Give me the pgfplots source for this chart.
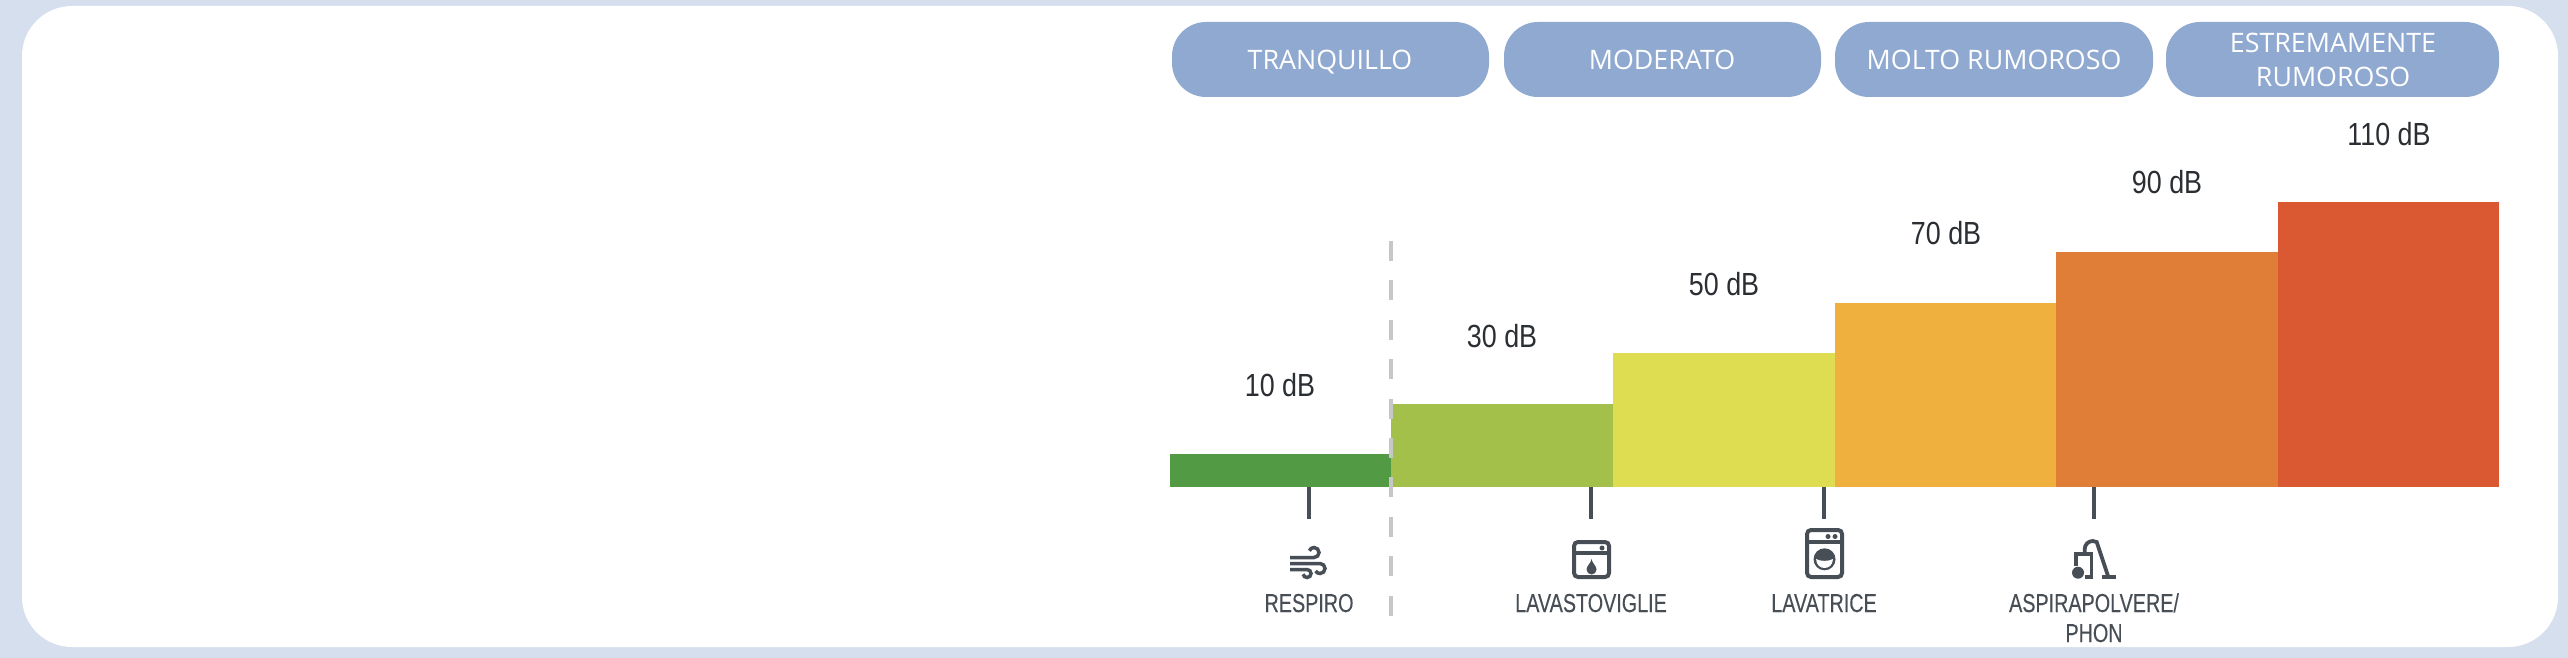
\documentclass[border=0pt]{standalone}
\usepackage{pgfplots}
\pgfplotsset{compat=1.18}
\usepackage{fontspec}
\setmainfont{Open Sans}
\newfontfamily\cond[FakeStretch=0.84]{Liberation Sans}
\newfontfamily\condb[FakeStretch=0.76,FakeBold=0.15]{Liberation Sans}
\definecolor{bgb}{HTML}{D6DFEE}
\definecolor{pillc}{HTML}{90A9D1}
\definecolor{ink}{HTML}{474E55}
\definecolor{valink}{HTML}{2B2F33}
\definecolor{c1}{HTML}{529A44}
\definecolor{c2}{HTML}{A3C14A}
\definecolor{c3}{HTML}{DEDD52}
\definecolor{c4}{HTML}{EFB03E}
\definecolor{c5}{HTML}{E07E38}
\definecolor{c6}{HTML}{DA5832}
\pgfplotsset{base/.style={hide axis,scale only axis,width=1284pt,height=329pt,at={(0,0)},anchor=south west,clip=false,xmin=0,xmax=2568}}
\pgfplotsset{px/.style={base,ymin=0,ymax=658,y dir=reverse}}
\begin{document}
\begin{tikzpicture}[x=1pt,y=1pt]
\begin{axis}[px]
\fill[bgb] (axis cs:0,0) rectangle (axis cs:2568,658);
\fill[white,rounded corners=25pt] (axis cs:22,6) rectangle (axis cs:2558,647);
\end{axis}
\begin{axis}[base,ymin=-70.96,ymax=190.15]
\addplot[fill=c1,draw=none] coordinates {(1170,-3.1)(1170,10)(1392,10)(1392,-3.1)} --cycle;
\addplot[fill=c2,draw=none] coordinates {(1391,-3.1)(1391,30)(1613,30)(1613,-3.1)} --cycle;
\addplot[fill=c3,draw=none] coordinates {(1613,-3.1)(1613,50)(1835,50)(1835,-3.1)} --cycle;
\addplot[fill=c4,draw=none] coordinates {(1835,-3.1)(1835,70)(2056,70)(2056,-3.1)} --cycle;
\addplot[fill=c5,draw=none] coordinates {(2056,-3.1)(2056,90)(2278,90)(2278,-3.1)} --cycle;
\addplot[fill=c6,draw=none] coordinates {(2278,-3.1)(2278,110)(2499,110)(2499,-3.1)} --cycle;
\end{axis}
\begin{axis}[px]
% dashed separator
\draw[draw=black!22,line width=1.8pt,dash pattern=on 10pt off 9.7pt] (axis cs:1391,241) -- (axis cs:1391,618);
% pills
\foreach \a/\b in {1172/1489,1504/1821,1835/2153,2166/2499}{
  \edef\tmp{\noexpand\fill[pillc,rounded corners=17pt] (axis cs:\a,22) rectangle (axis cs:\b,97);}\tmp
}
\tikzset{pl/.style={text=white,font=\fontsize{13.4}{16}\selectfont,inner sep=0pt,anchor=base}}
\node[pl] at (axis cs:1330,70) {TRANQUILLO};
\node[pl] at (axis cs:1662,70) {MODERATO};
\node[pl] at (axis cs:1994,70) {MOLTO RUMOROSO};
\node[pl] at (axis cs:2333,53) {ESTREMAMENTE};
\node[pl] at (axis cs:2333,87) {RUMOROSO};
% value labels
\tikzset{vl/.style={text=valink,font=\cond\fontsize{16}{18}\selectfont,inner sep=0pt,anchor=base}}
\node[vl] at (axis cs:1280,396) {10 dB};
\node[vl] at (axis cs:1502,347) {30 dB};
\node[vl] at (axis cs:1724,295) {50 dB};
\node[vl] at (axis cs:1946,244) {70 dB};
\node[vl] at (axis cs:2167,193) {90 dB};
\node[vl] at (axis cs:2389,145) {110 dB};
% ticks
\foreach \x in {1309,1591,1824,2094}{
  \edef\tmp{\noexpand\draw[ink,line width=1.8pt] (axis cs:\x,487) -- (axis cs:\x,519);}\tmp
}
% category labels
\tikzset{cl/.style={text=ink,font=\condb\fontsize{13}{15}\selectfont,inner sep=0pt,anchor=base}}
\node[cl] at (axis cs:1309,612) {RESPIRO};
\node[cl] at (axis cs:1591,612) {LAVASTOVIGLIE};
\node[cl] at (axis cs:1824,612) {LAVATRICE};
\node[cl] at (axis cs:2094,612) {ASPIRAPOLVERE/};
\node[cl] at (axis cs:2094,642) {PHON};
% wind icon
\begin{scope}[shift={(axis cs:1290,579)},x=0.5pt,y=0.5pt,line width=1.75pt,draw=ink]
\draw (0,21.5) -- (24,21.5) arc[start angle=-90,end angle=160,radius=5];
\draw (0,15.5) -- (30,15.5) arc[start angle=90,end angle=-150,radius=5];
\draw (0,9.5) -- (17,9.5) arc[start angle=90,end angle=-170,radius=4];
\end{scope}
% dishwasher icon
\begin{scope}[shift={(axis cs:1572,579)},x=0.5pt,y=0.5pt]
\draw[ink,line width=2pt,rounded corners=2pt] (2,2) rectangle (37,37);
\draw[ink,line width=2pt] (2,26) -- (37,26);
\fill[ink] (30,31) circle[radius=2.5];
\fill[ink] (19.5,20) .. controls (20,16) and (24.5,13) .. (24.5,9.5) arc[start angle=0,end angle=-180,radius=5] .. controls (14.5,13) and (19,16) .. (19.5,20) -- cycle;
\end{scope}
% washing machine icon
\begin{scope}[shift={(axis cs:1805,579)},x=0.5pt,y=0.5pt]
\draw[ink,line width=2pt,rounded corners=2pt] (2,2) rectangle (37,49);
\draw[ink,line width=2pt] (2,37.5) -- (37,37.5);
\fill[ink] (23,42.5) circle[radius=2.5];
\fill[ink] (30,42.5) circle[radius=2.5];
\fill[ink] (19.5,19.7) circle[radius=11];
\fill[white] (11,20) .. controls (15,17.5) and (24,17.5) .. (28,20) .. controls (27.5,14) and (24,11) .. (19.5,11) .. controls (15,11) and (11.5,14) .. (11,20) -- cycle;
\end{scope}
% vacuum cleaner icon
\begin{scope}[shift={(axis cs:2072,579)},x=0.5pt,y=0.5pt]
\fill[ink] (6,6.3) circle[radius=6];
\draw[ink,line width=1.9pt] (3.7,13) -- (3.7,24.7) -- (19.5,24.7) -- (19.5,2) -- (12.5,2);
\draw[ink,line width=1.9pt] (12.7,24.7) -- (12.7,30) arc[start angle=180,end angle=60,radius=8] -- (36,3);
\draw[ink,line width=2pt] (30,2) -- (44,2);
\end{scope}
\end{axis}
\end{tikzpicture}
\end{document}
